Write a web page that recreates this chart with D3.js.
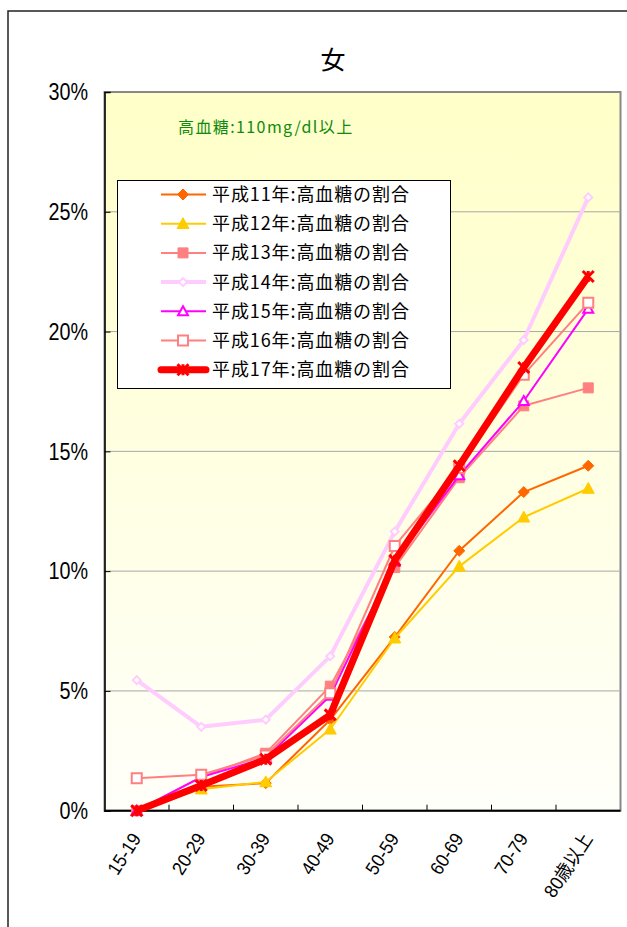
<!DOCTYPE html>
<html>
<head>
<meta charset="utf-8">
<script src="https://cdn.jsdelivr.net/npm/d3@7"></script>
<style>
  body { margin: 0; background: #fff; }
  svg { display: block; }
</style>
</head>
<body>
<svg id="chart" width="627" height="927"></svg>
<script>
const categories = ['15-19', '20-29', '30-39', '40-49', '50-59', '60-69', '70-79', '80歳以上']
const yTicks = [0, 5, 10, 15, 20, 25, 30]

const h11 = [0, 1.0, 1.15, 3.8, 7.25, 10.85, 13.3, 14.4]
const h12 = [0, 0.9, 1.2, 3.4, 7.2, 10.2, 12.25, 13.45]
const h13 = [0, 1.4, 2.4, 5.2, 10.15, 13.9, 16.9, 17.65]
const h14 = [5.45, 3.5, 3.8, 6.45, 11.65, 16.15, 19.65, 25.6]
const h15 = [0, 1.4, 2.2, 4.8, 10.4, 14.0, 17.1, 20.95]
const h16 = [1.35, 1.5, 2.3, 4.9, 11.05, 14.3, 18.2, 21.2]
const h17 = [0, 1.05, 2.15, 4.0, 10.45, 14.4, 18.5, 22.3]

const seriesNames = ['平成11年:高血糖の割合', '平成12年:高血糖の割合', '平成13年:高血糖の割合',
  '平成14年:高血糖の割合', '平成15年:高血糖の割合', '平成16年:高血糖の割合', '平成17年:高血糖の割合']

// style per series
const styles = [
  { color: '#FF6600', width: 2, marker: 'diamond', fill: '#FF6600', size: 11 },
  { color: '#FFCC00', width: 2, marker: 'triangle', fill: '#FFCC00', size: 12 },
  { color: '#FF8080', width: 2, marker: 'square', fill: '#FF8080', size: 10 },
  { color: '#FFCCFF', width: 4, marker: 'diamond', fill: '#FFFFFF', size: 8 },
  { color: '#FF00FF', width: 2, marker: 'triangle', fill: '#FFFFFF', size: 10 },
  { color: '#FF8080', width: 2, marker: 'square', fill: '#FFFFFF', size: 10 },
  { color: '#FF0000', width: 7, marker: 'star', fill: 'none', size: 11 },
]
const series = [h11, h12, h13, h14, h15, h16, h17].map((v, i) => ({ name: seriesNames[i], values: v, style: styles[i] }))

const svg = d3.select('#chart')
const pLeft = 104.5, pRight = 620.5, pTop = 92, pBottom = 810.7

const x = d3.scaleBand().domain(categories).range([pLeft, pRight]).padding(0)
const y = d3.scaleLinear().domain([0, 30]).range([pBottom, pTop])
const cx = (c) => x(c) + x.bandwidth() / 2

// outer frame
svg.append('rect').attr('x', 8).attr('y', 11).attr('width', 700).attr('height', 1000)
  .attr('fill', 'none').attr('stroke', '#222').attr('stroke-width', 1.5)

// plot background gradient
const defs = svg.append('defs')
const grad = defs.append('linearGradient').attr('id', 'bg').attr('x1', 0).attr('y1', 0).attr('x2', 0).attr('y2', 1)
grad.append('stop').attr('offset', '0%').attr('stop-color', '#FFFFC8')
grad.append('stop').attr('offset', '100%').attr('stop-color', '#FFFFFA')

svg.append('rect').attr('x', pLeft).attr('y', pTop).attr('width', pRight - pLeft).attr('height', pBottom - pTop)
  .attr('fill', 'url(#bg)').attr('stroke', '#888').attr('stroke-width', 2)

// gridlines
svg.append('g').selectAll('line').data(yTicks.slice(1, -1)).enter().append('line')
  .attr('x1', pLeft).attr('x2', pRight).attr('y1', (d) => y(d)).attr('y2', (d) => y(d))
  .attr('stroke', '#a8a8a8').attr('stroke-width', 1)

// y axis
const yAxis = svg.append('g').attr('transform', `translate(${pLeft},0)`)
  .call(d3.axisLeft(y).tickValues(yTicks).tickSize(-6).tickPadding(16).tickFormat((d) => d + '%'))
yAxis.select('.domain').attr('stroke', '#000').attr('stroke-width', 1.5)
yAxis.selectAll('.tick line').attr('stroke', '#000')
yAxis.selectAll('text').attr('font-family', 'Liberation Sans, Arial, sans-serif').attr('font-size', 23)
  .attr('fill', '#000').attr('transform', 'scale(0.86,1)').attr('x', -19).attr('dy', '0.34em')

// x axis: ticks between categories
const xb = d3.range(categories.length + 1).map((i) => pLeft + i * x.bandwidth())
svg.append('g').selectAll('line').data(xb.slice(1, -1)).enter().append('line')
  .attr('x1', (d) => d).attr('x2', (d) => d).attr('y1', pBottom).attr('y2', pBottom - 6)
  .attr('stroke', '#000').attr('stroke-width', 1)
svg.append('line').attr('x1', pLeft).attr('x2', pRight).attr('y1', pBottom).attr('y2', pBottom)
  .attr('stroke', '#000').attr('stroke-width', 2)

svg.append('g').selectAll('text').data(categories).enter().append('text')
  .attr('transform', (d) => `translate(${cx(d) + 5},${pBottom + 28}) rotate(-57) scale(0.92,1)`)
  .attr('text-anchor', 'end')
  .attr('font-family', 'Liberation Sans, Noto Sans CJK JP, sans-serif')
  .attr('font-size', 19)
  .attr('fill', '#000')
  .text((d) => d)

// markers
const markerPath = (type, s) => {
  const h = s / 2
  if (type === 'diamond') return `M0,${-h}L${h},0L0,${h}L${-h},0Z`
  if (type === 'square') return `M${-h},${-h}H${h}V${h}H${-h}Z`
  if (type === 'triangle') return `M0,${-h}L${h},${h * 0.8}L${-h},${h * 0.8}Z`
  return `M${-h},${-h}L${h},${h}M${h},${-h}L${-h},${h}M0,${-h}V${h}`
}

const line = d3.line().x((d, i) => cx(categories[i])).y((d) => y(d))

series.forEach((s) => {
  const g = svg.append('g')
  g.append('path').datum(s.values).attr('d', line).attr('fill', 'none')
    .attr('stroke', s.style.color).attr('stroke-width', s.style.width).attr('stroke-linejoin', 'round')
  g.selectAll('path.m').data(s.values).enter().append('path').attr('class', 'm')
    .attr('transform', (d, i) => `translate(${cx(categories[i])},${y(d)})`)
    .attr('d', markerPath(s.style.marker, s.style.size))
    .attr('fill', s.style.fill)
    .attr('stroke', s.style.color)
    .attr('stroke-width', s.style.marker === 'star' ? 3 : (s.style.fill === '#FFFFFF' ? 2 : 1))
})

// title
svg.append('text').attr('x', 333).attr('y', 69).attr('text-anchor', 'middle')
  .attr('font-family', 'Noto Sans CJK JP, sans-serif').attr('font-size', 25).attr('fill', '#000').text('女')

// subtitle
svg.append('text').attr('x', 178).attr('y', 133)
  .attr('font-family', 'Noto Sans CJK JP, sans-serif').attr('font-size', 16).attr('fill', '#0E8A0E')
  .attr('letter-spacing', 1.4)
  .text('高血糖:110mg/dl以上')

// legend
const legend = svg.append('g').attr('transform', 'translate(117,180)')
legend.append('rect').attr('x', 0.5).attr('y', 0.5).attr('width', 333).attr('height', 208)
  .attr('fill', '#fff').attr('stroke', '#000').attr('stroke-width', 1)

const rows = legend.selectAll('g.row').data(series).enter().append('g').attr('class', 'row')
  .attr('transform', (d, i) => `translate(0,${14.5 + i * 29.2})`)
rows.append('line').attr('x1', 44).attr('x2', 89).attr('y1', 0).attr('y2', 0)
  .attr('stroke', (d) => d.style.color).attr('stroke-width', (d) => d.style.width)
  .attr('stroke-linecap', (d) => (d.style.width > 4 ? 'round' : 'butt'))
rows.append('path').attr('transform', 'translate(66,0)')
  .attr('d', (d) => markerPath(d.style.marker, d.style.size))
  .attr('fill', (d) => d.style.fill).attr('stroke', (d) => d.style.color)
  .attr('stroke-width', (d) => (d.style.marker === 'star' ? 3 : d.style.fill === '#FFFFFF' ? 2 : 1))
rows.append('text').attr('x', 95).attr('y', 0).attr('dy', '0.36em')
  .attr('font-family', 'Noto Sans CJK JP, sans-serif').attr('font-size', 18).attr('fill', '#000')
  .attr('letter-spacing', 0.9)
  .text((d) => d.name)
</script>
</body>
</html>
